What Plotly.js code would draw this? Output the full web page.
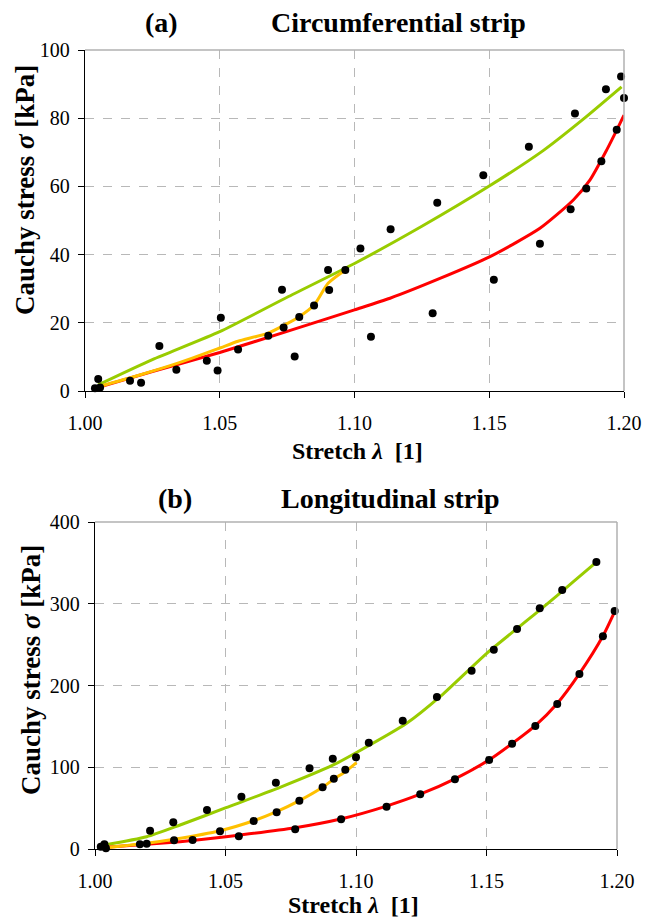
<!DOCTYPE html>
<html>
<head>
<meta charset="utf-8">
<script src="https://cdn.plot.ly/plotly-3.0.1.min.js"></script>
<style>html,body{margin:0;padding:0;background:#fff}#chart{width:655px;height:917px}</style>
</head>
<body>
<div id="chart"></div>
<script>
// ---- Panel (a): circumferential strip ----
const circStretch = [1.0037,1.0049,1.0056,1.0167,1.0208,1.0276,1.0339,1.0452,1.0492,1.0504,1.0568,1.0680,1.0731,1.0737,1.0778,1.0795,1.0850,1.0902,1.0906,1.0966,1.1022,1.1061,1.1134,1.1290,1.1307,1.1478,1.1517,1.1647,1.1688,1.1802,1.1818,1.1860,1.1916,1.1933,1.1973,1.1989,1.2000];
const circStress  = [0.8,3.5,1.0,3.0,2.4,13.2,6.2,8.9,6.0,21.5,12.2,16.2,29.7,18.6,10.1,21.7,25.1,35.5,29.6,35.5,41.8,15.9,47.4,22.8,55.2,63.3,32.6,71.6,43.2,53.3,81.4,59.4,67.4,88.5,76.6,92.2,85.9];

const circGreenX = [1.0049,1.025,1.05,1.075,1.10,1.125,1.15,1.17,1.185,1.1991];
const circGreenY = [1.8,9.2,17.4,27.5,37.4,48.3,60.1,70.5,79.8,89.2];
const circRedX   = [1.0037,1.025,1.05,1.075,1.10,1.1132,1.1317,1.1503,1.1688,1.1812,1.1874,1.1936,1.1973,1.2];
const circRedY   = [0.8,5.7,11.3,17.5,23.8,27.2,33.0,39.4,47.7,56.0,61.9,70.7,76.5,80.9];
const circOrangeX = [1.004,1.02,1.035,1.05,1.0568,1.068,1.0795,1.085,1.0902,1.0966];
const circOrangeY = [1.0,4.6,8.3,12.6,14.6,17.0,21.8,25.2,31.6,35.5];

// ---- Panel (b): longitudinal strip ----
const longStretch = [1.0022,1.0036,1.0042,1.0172,1.0198,1.0211,1.0300,1.0303,1.0374,1.0429,1.0479,1.0551,1.0561,1.0608,1.0693,1.0696,1.0767,1.0783,1.0822,1.0872,1.0911,1.0915,1.0943,1.0959,1.1000,1.1049,1.1117,1.1179,1.1246,1.1310,1.1379,1.1443,1.1510,1.1528,1.1598,1.1617,1.1687,1.1704,1.1771,1.1790,1.1856,1.1921,1.1946,1.1991];
const longStress  = [2.8,5.7,0.9,5.7,6.5,22.4,32.6,10.6,11.0,47.7,21.6,15.5,64.0,34.3,81.1,44.9,24.1,59.1,98.7,75.5,110.5,86.0,36.3,97.0,112.2,130.0,51.8,157.0,66.9,185.9,85.3,218.1,108.9,243.8,128.8,269.1,150.5,294.4,177.4,316.8,214.1,351.1,260.2,291.1];

const longGreenX = [1.0036,1.0198,1.0326,1.0502,1.0709,1.0913,1.1002,1.1194,1.1322,1.1501,1.1705,1.1833,1.1921];
const longGreenY = [4.9,15,29.4,50.5,75.4,102.8,118,153.7,186.3,239.4,292.4,327,351];
const longRedX   = [1.0019,1.0198,1.0326,1.0502,1.0767,1.0945,1.1117,1.1246,1.1379,1.1510,1.1598,1.1687,1.1771,1.1856,1.1946,1.1992];
const longRedY   = [1.6,5.7,9.0,15.1,26.0,37.0,52.5,67.0,85.8,109.0,129.0,151.0,178.0,214.5,260.5,291.0];
const longOrangeX = [1.0042,1.0198,1.0303,1.0479,1.0608,1.0696,1.0783,1.0872,1.0915,1.0959,1.1002];
const longOrangeY = [1.6,7,11.9,22.4,34.6,45.6,59.1,75.5,85.6,94.6,105.6];

const xTicks = [1.00,1.05,1.10,1.15,1.20];
const xTickText = ['1.00','1.05','1.10','1.15','1.20'];
const circYTicks = [0,20,40,60,80,100];
const longYTicks = [0,100,200,300,400];

const titleA = '(a)', titleAText = 'Circumferential strip';
const titleB = '(b)', titleBText = 'Longitudinal strip';
const xTitle = '<b>Stretch <i>λ</i>  [1]</b>';
const yTitle = '<b>Cauchy stress <i>σ</i> [kPa]</b>';

const GREEN = '#99CC00', RED = '#FF0000', ORANGE = '#FFC000';
const SERIF = 'Liberation Serif';

function curve(x, y, color, xa, ya) {
  return {x, y, xaxis: xa, yaxis: ya, type: 'scatter', mode: 'lines',
    line: {color, width: 3, shape: 'spline', smoothing: 0.6}, hoverinfo: 'skip', showlegend: false};
}
function dots(x, y, xa, ya) {
  return {x, y, xaxis: xa, yaxis: ya, type: 'scatter', mode: 'markers', cliponaxis: false,
    marker: {color: '#000', size: 8}, showlegend: false};
}

const data = [
  curve(circGreenX, circGreenY, GREEN, 'x', 'y'),
  curve(circRedX, circRedY, RED, 'x', 'y'),
  curve(circOrangeX, circOrangeY, ORANGE, 'x', 'y'),
  dots(circStretch, circStress, 'x', 'y'),
  curve(longGreenX, longGreenY, GREEN, 'x2', 'y2'),
  curve(longRedX, longRedY, RED, 'x2', 'y2'),
  curve(longOrangeX, longOrangeY, ORANGE, 'x2', 'y2'),
  dots(longStretch, longStress, 'x2', 'y2')
];

const W = 655, H = 917;
const px = v => v / W;
const py = v => (H - v) / H;

function xAxis(domain, anchor) {
  return {domain, anchor, range: [1.0, 1.2], tickvals: xTicks, ticktext: xTickText,
    showline: true, linecolor: '#000', linewidth: 1.3, ticks: 'outside', ticklen: 6, tickcolor: '#000',
    showgrid: true, gridcolor: '#b8b8b8', griddash: 'dash', gridwidth: 1, zeroline: false,
    tickfont: {family: SERIF, size: 20, color: '#000'}, ticklabelstandoff: 8, fixedrange: true};
}
function yAxis(domain, anchor, range, ticks) {
  return {domain, anchor, range, tickvals: ticks,
    showline: true, linecolor: '#000', linewidth: 1.3, ticks: 'outside', ticklen: 6, tickcolor: '#000',
    showgrid: true, gridcolor: '#b8b8b8', griddash: 'dash', gridwidth: 1, zeroline: false,
    tickfont: {family: SERIF, size: 20, color: '#000'}, ticklabelstandoff: 4, fixedrange: true};
}

const layout = {
  width: W, height: H, margin: {l: 0, r: 0, t: 0, b: 0},
  font: {family: SERIF, color: '#000'},
  paper_bgcolor: '#fff', plot_bgcolor: '#fff', showlegend: false,
  xaxis: xAxis([px(85), px(624)], 'y'),
  yaxis: yAxis([py(391), py(50)], 'x', [0, 100], circYTicks),
  xaxis2: xAxis([px(95), px(617)], 'y2'),
  yaxis2: yAxis([py(849), py(522)], 'x2', [0, 400], longYTicks),
  shapes: [
    {type: 'line', xref: 'x domain', yref: 'y domain', x0: 0, x1: 1, y0: 1, y1: 1, line: {color: '#b0b0b0', width: 1.5}},
    {type: 'line', xref: 'x domain', yref: 'y domain', x0: 1, x1: 1, y0: 0, y1: 1, line: {color: '#b0b0b0', width: 1.5}},
    {type: 'line', xref: 'x2 domain', yref: 'y2 domain', x0: 0, x1: 1, y0: 1, y1: 1, line: {color: '#b0b0b0', width: 1.5}},
    {type: 'line', xref: 'x2 domain', yref: 'y2 domain', x0: 1, x1: 1, y0: 0, y1: 1, line: {color: '#b0b0b0', width: 1.5}}
  ],
  annotations: [
    {text: '<b>' + titleA + '</b>', x: px(161), y: py(22), xref: 'paper', yref: 'paper', showarrow: false,
      xanchor: 'center', yanchor: 'middle', font: {family: SERIF, size: 28, color: '#000'}},
    {text: '<b>' + titleAText + '</b>', x: px(399), y: py(22), xref: 'paper', yref: 'paper', showarrow: false,
      xanchor: 'center', yanchor: 'middle', font: {family: SERIF, size: 28, color: '#000'}},
    {text: '<b>' + titleB + '</b>', x: px(175), y: py(498), xref: 'paper', yref: 'paper', showarrow: false,
      xanchor: 'center', yanchor: 'middle', font: {family: SERIF, size: 28, color: '#000'}},
    {text: '<b>' + titleBText + '</b>', x: px(390), y: py(498), xref: 'paper', yref: 'paper', showarrow: false,
      xanchor: 'center', yanchor: 'middle', font: {family: SERIF, size: 28, color: '#000'}},
    {text: xTitle, x: px(357), y: py(451), xref: 'paper', yref: 'paper', showarrow: false,
      xanchor: 'center', yanchor: 'middle', font: {family: SERIF, size: 24, color: '#000'}},
    {text: xTitle, x: px(354), y: py(905), xref: 'paper', yref: 'paper', showarrow: false,
      xanchor: 'center', yanchor: 'middle', font: {family: SERIF, size: 24, color: '#000'}},
    {text: yTitle, x: px(25), y: py(190), xref: 'paper', yref: 'paper', showarrow: false, textangle: -90,
      xanchor: 'center', yanchor: 'middle', font: {family: SERIF, size: 27, color: '#000'}},
    {text: yTitle, x: px(31), y: py(670), xref: 'paper', yref: 'paper', showarrow: false, textangle: -90,
      xanchor: 'center', yanchor: 'middle', font: {family: SERIF, size: 27, color: '#000'}}
  ]
};

Plotly.newPlot('chart', data, layout, {displayModeBar: false, staticPlot: true});
</script>
</body>
</html>
